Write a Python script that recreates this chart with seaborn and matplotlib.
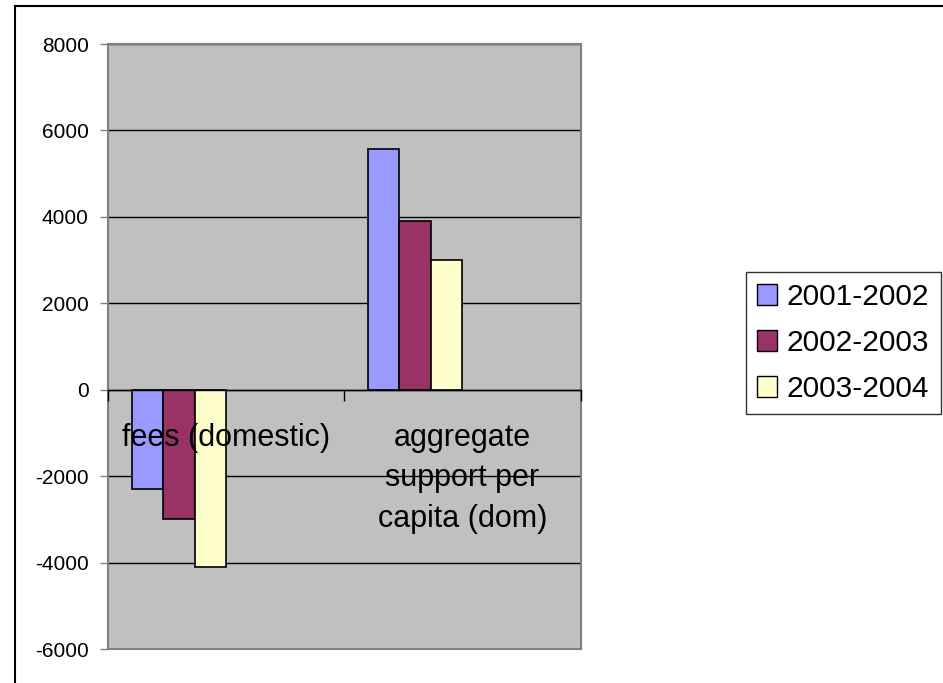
import matplotlib
matplotlib.use("Agg")
import matplotlib.pyplot as plt
from matplotlib.patches import Patch, Rectangle
import pandas as pd
import seaborn as sns

# Data
categories = ["fees (domestic)", "aggregate\nsupport per\ncapita (dom)"]
periods = ["2001-2002", "2002-2003", "2003-2004"]
values_2001_2002 = [-2300, 5560]
values_2002_2003 = [-3000, 3910]
values_2003_2004 = [-4100, 3000]
y_ticks = [8000, 6000, 4000, 2000, 0, -2000, -4000, -6000]

# The series layout reserves six slots per category; only three carry data
empty_slots = ["s4", "s5", "s6"]
colors = ["#9999FF", "#993366", "#FFFFCC"]

rows = []
for period, vals in zip(periods, [values_2001_2002, values_2002_2003, values_2003_2004]):
    for cat, v in zip(categories, vals):
        rows.append({"category": cat, "period": period, "value": v})
df = pd.DataFrame(rows)

sns.set_theme(style="white")
plt.rcParams["font.family"] = ["Liberation Sans", "DejaVu Sans"]
plt.rcParams["text.color"] = "black"
plt.rcParams["xtick.labelcolor"] = "black"
plt.rcParams["ytick.labelcolor"] = "black"

fig = plt.figure(figsize=(9.43, 6.83), dpi=100)
W, H = 943, 683
ax = fig.add_axes([108 / W, 1 - 649 / H, 472.5 / W, (649 - 44) / H])

palette = dict(zip(periods + empty_slots, colors + ["#FFFFFF"] * 3))
sns.barplot(data=df, x="category", y="value", hue="period",
            order=categories, hue_order=periods + empty_slots,
            palette=palette, width=0.8, saturation=1, legend=False,
            edgecolor="black", linewidth=1.2, errorbar=None, ax=ax)

ax.set_facecolor("#C0C0C0")
ax.set_xlim(-0.5, 1.5)
ax.set_ylim(-6000, 8000)
ax.set_yticks(y_ticks)
ax.set_yticklabels([str(t) for t in y_ticks])
ax.set_axisbelow(True)
ax.yaxis.grid(True, color="black", linewidth=1.0)
ax.xaxis.grid(False)
ax.set_xlabel("")
ax.set_ylabel("")
ax.tick_params(axis="y", which="major", direction="out", length=6, width=1,
               color="#808080", labelsize=15, pad=8, left=True,
               labelcolor="black")
ax.tick_params(axis="x", which="both", bottom=False, labelbottom=False)
for side in ["left", "right", "top", "bottom"]:
    ax.spines[side].set_visible(True)
    ax.spines[side].set_color("#808080")
    ax.spines[side].set_linewidth(1.5)

# Category axis crossing at zero, drawn above the bars
zero_frac = 6000 / 14000
sec = ax.secondary_xaxis(zero_frac)
sec.set_zorder(10)
sec.set_xticks([-0.5, 0.5, 1.5])
sec.set_xticklabels(["", "", ""])
sec.set_xticks([0, 1], minor=True)
sec.set_xticklabels(categories, minor=True, fontsize=22, linespacing=1.45,
                    va="top", color="black")
sec.tick_params(axis="x", which="major", direction="out", length=8, width=1,
                color="black")
sec.tick_params(axis="x", which="minor", length=0, pad=24)
sec.spines["bottom"].set_color("black")
sec.spines["bottom"].set_linewidth(1.0)

# Legend
handles = [Patch(facecolor=c, edgecolor="black", linewidth=1.0, label=p)
           for p, c in zip(periods, colors)]
leg = fig.legend(handles=handles, loc="upper left",
                 bbox_to_anchor=(745.7 / W, 1 - 271.7 / H),
                 bbox_transform=fig.transFigure, borderaxespad=0,
                 fontsize=21.5, frameon=True, fancybox=False, shadow=False,
                 handlelength=0.67, handleheight=0.67, handletextpad=0.33,
                 labelspacing=0.6, borderpad=0.38)
leg.get_frame().set_edgecolor("black")
leg.get_frame().set_linewidth(1.0)
leg.get_frame().set_facecolor("white")
for t in leg.get_texts():
    t.set_color("black")

# Chart border
fig.add_artist(Rectangle((15 / W, -0.1), 1.2, 1.1 - 6.5 / H,
                         transform=fig.transFigure, fill=False,
                         edgecolor="black", linewidth=1.5))

fig.savefig("out.png", dpi=100)
